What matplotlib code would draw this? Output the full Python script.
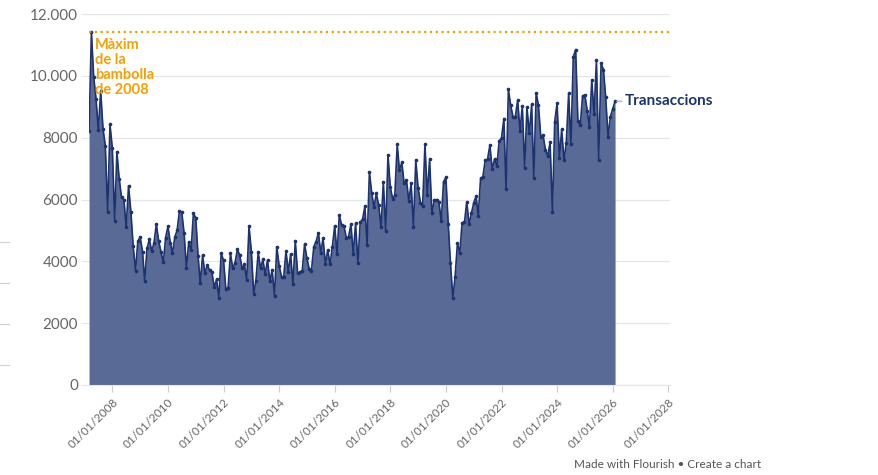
import matplotlib
matplotlib.use("Agg")
import matplotlib.pyplot as plt
import matplotlib.dates as mdates
from matplotlib.ticker import FuncFormatter
from matplotlib.lines import Line2D
import pandas as pd

# ---- data (monthly transactions) ----
START_MONTH = "2007-03-01"
transaccions = [
    8210, 11420, 9970, 9250, 8245, 9505, 8280, 7740, 5600, 8430,
    7670, 5320, 7540, 6650, 6070, 6000, 5110, 6445, 5600, 4490,
    3700, 4655, 4785, 4310, 3370, 4420, 4710, 4340, 4580, 5205,
    4655, 4310, 3965, 4765, 5130, 4600, 4270, 4785, 5000, 5635,
    5595, 4915, 3780, 4635, 4355, 5550, 5410, 4170, 3290, 4200,
    3610, 3880, 3720, 3665, 3160, 3415, 2820, 4255, 4040, 3095,
    3145, 4255, 3770, 3955, 4385, 4200, 3770, 3900, 3395, 5140,
    4310, 2940, 3370, 4290, 3770, 4060, 3580, 4040, 3360, 3720,
    2890, 4470, 3860, 3500, 3480, 4340, 3665, 4225, 3265, 4665,
    3610, 3650, 3700, 4560, 4095, 3750, 3685, 4470, 4635, 4925,
    4280, 4745, 3900, 4365, 3900, 4470, 5150, 4225, 5495, 5175,
    5150, 4765, 4795, 5195, 4235, 5230, 3955, 5260, 5365, 5785,
    4525, 6895, 6215, 5745, 6195, 5820, 5100, 6575, 4980, 7435,
    6390, 6015, 6145, 7780, 6950, 7200, 6520, 6630, 5950, 6520,
    5100, 7275, 6380, 5895, 5785, 7780, 6145, 7295, 5550, 5980,
    6000, 5925, 5300, 6575, 6715, 5195, 3955, 2820, 3500, 4600,
    4255, 5250, 5260, 5925, 5195, 5550, 5895, 6110, 5475, 6680,
    6735, 7275, 7295, 7760, 6975, 7305, 7080, 7890, 7995, 8620,
    6335, 9560, 9050, 8675, 8675, 9215, 8210, 9030, 7025, 8980,
    8135, 9075, 6680, 9450, 9050, 8030, 8085, 7600, 7415, 7845,
    5605, 8515, 9125, 7330, 8265, 7275, 7835, 9430, 7790, 10615,
    10850, 8535, 8405, 9355, 9375, 8860, 8350, 9860, 8760, 10505,
    7275, 10400, 10205, 9300, 8030, 8675, 8925, 9180,
]
dates = pd.date_range(START_MONTH, periods=len(transaccions), freq="MS")
series_label = "Transaccions"
bubble_label = "Màxim\nde la\nbambolla\nde 2008"
x_tick_years = [2008, 2010, 2012, 2014, 2016, 2018, 2020, 2022, 2024, 2026, 2028]
y_ticks = [0, 2000, 4000, 6000, 8000, 10000, 12000]

# ---- styles ----
NAVY = "#1c3370"
FILL = "#5a6a96"
ORANGE = "#f5a000"
GREY = "#666666"
GRID = "#e6e6e6"

plt.rcParams["font.family"] = ["Lato", "DejaVu Sans"]

fig = plt.figure(figsize=(8.79, 4.75), dpi=100)
ax = fig.add_axes([0.1013, 0.1895, 0.6606, 0.781])

ax.fill_between(dates, transaccions, 0, color=FILL, linewidth=0, zorder=2)
ax.plot(dates, transaccions, color=NAVY, lw=1.2, marker="o", ms=1.6, zorder=3)

# max of the 2008 bubble
peak = max(transaccions[:24])
ax.axhline(peak, color=ORANGE, lw=1.6, linestyle=(0, (1, 1.6)), zorder=4)
ax.text(dates[1] + pd.Timedelta(days=45), peak - 180, bubble_label,
        color=ORANGE, fontsize=10.5, fontweight="bold", va="top", ha="left",
        linespacing=1.1, zorder=5)

# series label at the end
ax.annotate(series_label, xy=(dates[-1], transaccions[-1]),
            xytext=(7, 0), textcoords="offset points",
            color=NAVY, fontsize=11, fontweight="bold", va="center", ha="left",
            arrowprops=dict(arrowstyle="-", color="#9aa6c4", lw=0.8,
                            shrinkA=0, shrinkB=1))

ax.set_xlim(dates[0], pd.Timestamp("2028-01-20"))
ax.set_ylim(0, 12000)
ax.set_yticks(y_ticks)
ax.yaxis.set_major_formatter(FuncFormatter(
    lambda v, p: f"{int(v):,}".replace(",", ".") if v >= 10000 else f"{int(v)}"))
ax.set_xticks([pd.Timestamp(f"{y}-01-01") for y in x_tick_years])
ax.xaxis.set_major_formatter(mdates.DateFormatter("%d/%m/%Y"))

ax.grid(axis="y", color=GRID, lw=0.9, zorder=0)
ax.grid(axis="x", visible=False)
for side in ["top", "right", "left"]:
    ax.spines[side].set_visible(False)
ax.spines["bottom"].set_color(GRID)
ax.tick_params(axis="y", length=6, color=GRID, labelcolor=GREY, labelsize=11, pad=2)
ax.tick_params(axis="x", length=5, color="#cccccc", labelcolor=GREY, labelsize=8.5)
for lbl in ax.get_xticklabels():
    lbl.set_rotation(45)
    lbl.set_ha("right")
    lbl.set_rotation_mode("anchor")

# stray marks on the left edge of the page
for yy in [242, 283, 324, 365]:
    fig.add_artist(Line2D([0, 9 / 879], [1 - yy / 475] * 2, color="#d0d0d0", lw=0.8))

fig.text(574 / 879, 1 - 464 / 475, "Made with Flourish • Create a chart",
         color="#555555", fontsize=8.5, va="center", ha="left")

fig.savefig("out.png", dpi=100)
